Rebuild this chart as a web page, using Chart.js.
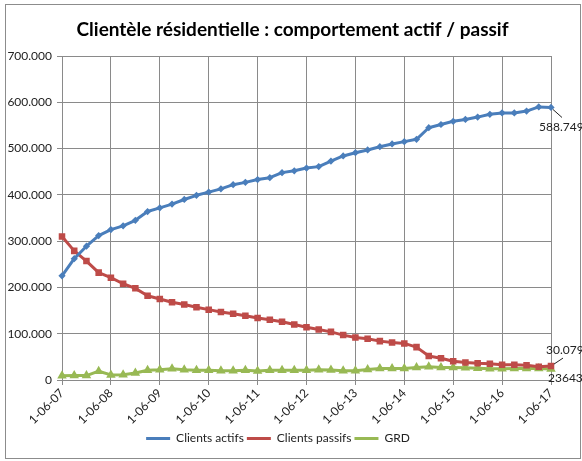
<!DOCTYPE html>
<html>
<head>
<meta charset="utf-8">
<script src="https://cdn.jsdelivr.net/npm/chart.js@4"></script>
<style>
  body { margin: 0; background: #fff; }
  #wrap { width: 582px; height: 461px; position: relative; }
</style>
</head>
<body>
<div id="wrap"><canvas id="clientsChart"></canvas></div>
<script>
// quarterly dates, only the June ones get a label on the axis
const dates = [
  "1-06-07", "1-09-07", "1-12-07", "1-03-08",
  "1-06-08", "1-09-08", "1-12-08", "1-03-09",
  "1-06-09", "1-09-09", "1-12-09", "1-03-10",
  "1-06-10", "1-09-10", "1-12-10", "1-03-11",
  "1-06-11", "1-09-11", "1-12-11", "1-03-12",
  "1-06-12", "1-09-12", "1-12-12", "1-03-13",
  "1-06-13", "1-09-13", "1-12-13", "1-03-14",
  "1-06-14", "1-09-14", "1-12-14", "1-03-15",
  "1-06-15", "1-09-15", "1-12-15", "1-03-16",
  "1-06-16", "1-09-16", "1-12-16", "1-03-17",
  "1-06-17"
];
const yearTicks = ["1-06-07", "1-06-08", "1-06-09", "1-06-10", "1-06-11", "1-06-12",
  "1-06-13", "1-06-14", "1-06-15", "1-06-16", "1-06-17"];

const clientsActifs = [
  225000, 262000, 289000, 312000, 325000, 333000, 345000, 364000, 372000, 380000,
  390000, 399000, 406000, 413000, 422000, 427000, 433000, 437000, 448000, 452000,
  458000, 461000, 473000, 484000, 491000, 497000, 504000, 510000, 515000, 520000,
  545000, 552000, 559000, 563000, 568000, 574000, 577000, 577000, 581000, 590000,
  588749
];
const clientsPassifs = [
  310000, 279000, 257000, 232000, 221000, 208000, 198000, 182000, 175000, 168000,
  163000, 157000, 152000, 147000, 143000, 139000, 134000, 130000, 126000, 120000,
  114000, 109000, 104000, 97000, 92000, 89000, 84000, 81000, 79000, 71000,
  52000, 47000, 40500, 37700, 36000, 35000, 33000, 33000, 32000, 28500,
  30079
];
const grd = [
  9000, 9500, 9500, 19000, 11000, 11500, 15000, 21000, 22000, 24500,
  22000, 21000, 21000, 20000, 20000, 21000, 19500, 21000, 21000, 21000,
  21000, 22000, 21500, 20000, 20000, 22500, 25000, 25000, 25000, 27000,
  28500, 27000, 27000, 26500, 25500, 24500, 24500, 25000, 25000, 25000,
  23643
];

const FONT = "Lato, 'Open Sans', sans-serif";
const GRID = "#8a8a8a";

function dotThousands(v) {
  return String(Math.round(v)).replace(/\B(?=(\d{3})+(?!\d))/g, ".");
}

// frame around the whole chart, like the Excel chart area
const framePlugin = {
  id: "frame",
  beforeDraw(chart) {
    const c = chart.ctx;
    c.save();
    c.fillStyle = "#fff";
    c.fillRect(0, 0, chart.width, chart.height);
    c.strokeStyle = "#8c8c8c";
    c.lineWidth = 1;
    c.strokeRect(5.5, 4.5, 575, 454);
    c.restore();
  }
};

// Excel centres the title on the whole frame, not on the plot + legend block
const titleShift = {
  id: "titleShift",
  afterLayout(chart) {
    if (chart.titleBlock) chart.titleBlock.right = chart.width - 2;
  }
};

// value labels on the last point of each series
const endLabels = {
  id: "endLabels",
  afterDatasetsDraw(chart) {
    const c = chart.ctx;
    const last = dates.length - 1;
    const spots = [
      { ds: 0, text: dotThousands(clientsActifs[last]), dx: -12, dy: 20, lead: [2, 2, 11, 10] },
      { ds: 1, text: dotThousands(clientsPassifs[last]), dx: -5, dy: -16, lead: [3, -2, 12, -8] },
      { ds: 2, text: String(grd[last]), dx: -3, dy: 9, lead: null }
    ];
    c.save();
    c.font = "12px " + FONT;
    c.fillStyle = "#222";
    c.strokeStyle = "#222";
    c.lineWidth = 1;
    c.textBaseline = "middle";
    c.textAlign = "left";
    spots.forEach(s => {
      const pt = chart.getDatasetMeta(s.ds).data[last];
      if (s.lead) {
        c.beginPath();
        c.moveTo(pt.x + s.lead[0], pt.y + s.lead[1]);
        c.lineTo(pt.x + s.lead[2], pt.y + s.lead[3]);
        c.stroke();
      }
      c.fillText(s.text, pt.x + s.dx, pt.y + s.dy);
    });
    c.restore();
  }
};

const ctx = document.getElementById("clientsChart").getContext("2d");

new Chart(ctx, {
  type: "line",
  data: {
    labels: dates,
    datasets: [
      {
        label: "Clients actifs",
        data: clientsActifs,
        borderColor: "#4a7ebb",
        backgroundColor: "#4a7ebb",
        borderWidth: 3,
        pointStyle: "rectRot",
        pointRadius: 1.5,
      },
      {
        label: "Clients passifs",
        data: clientsPassifs,
        borderColor: "#be4b48",
        backgroundColor: "#be4b48",
        borderWidth: 3,
        pointStyle: "rect",
        pointRadius: 2.5,
      },
      {
        label: "GRD",
        data: grd,
        borderColor: "#98b954",
        backgroundColor: "#98b954",
        borderWidth: 3,
        pointStyle: "triangle",
        pointRadius: 2.5,
      }
    ]
  },
  options: {
    responsive: true,
    maintainAspectRatio: false,
    animation: false,
    layout: { padding: { left: 5, right: 31, top: 0, bottom: 6.5 } },
    elements: {
      line: { tension: 0, borderJoinStyle: "round", borderCapStyle: "round" },
      point: { borderWidth: 0 }
    },
    plugins: {
      title: {
        display: true,
        text: "Clientèle résidentielle : comportement actif / passif",
        color: "#000",
        font: { family: FONT, size: 19, weight: "bold", lineHeight: 1.2 },
        padding: { top: 18.6, bottom: 14.6 }
      },
      legend: {
        position: "bottom",
        labels: {
          color: "#222",
          font: { family: FONT, size: 12 },
          usePointStyle: true,
          pointStyle: "line",
          pointStyleWidth: 24,
          padding: 3
        }
      },
      tooltip: { enabled: false }
    },
    scales: {
      x: {
        offset: false,
        afterFit: s => { s.height = 49.5; },
        border: { color: GRID },
        grid: {
          color: c => (yearTicks.includes(dates[c.index]) ? GRID : "transparent"),
          tickLength: 5
        },
        ticks: {
          autoSkip: false,
          maxRotation: 45,
          minRotation: 45,
          padding: 1,
          color: "#222",
          font: { family: FONT, size: 12 },
          callback: (v, i) => (yearTicks.includes(dates[i]) ? dates[i] : "")
        }
      },
      y: {
        min: 0,
        max: 700000,
        afterFit: s => { s.width = 57; },
        border: { color: GRID },
        grid: { color: GRID, tickLength: 5 },
        ticks: {
          stepSize: 100000,
          padding: 5,
          color: "#222",
          font: { family: FONT, size: 12 },
          callback: v => dotThousands(v)
        }
      }
    }
  },
  plugins: [framePlugin, titleShift, endLabels]
});
</script>
</body>
</html>
